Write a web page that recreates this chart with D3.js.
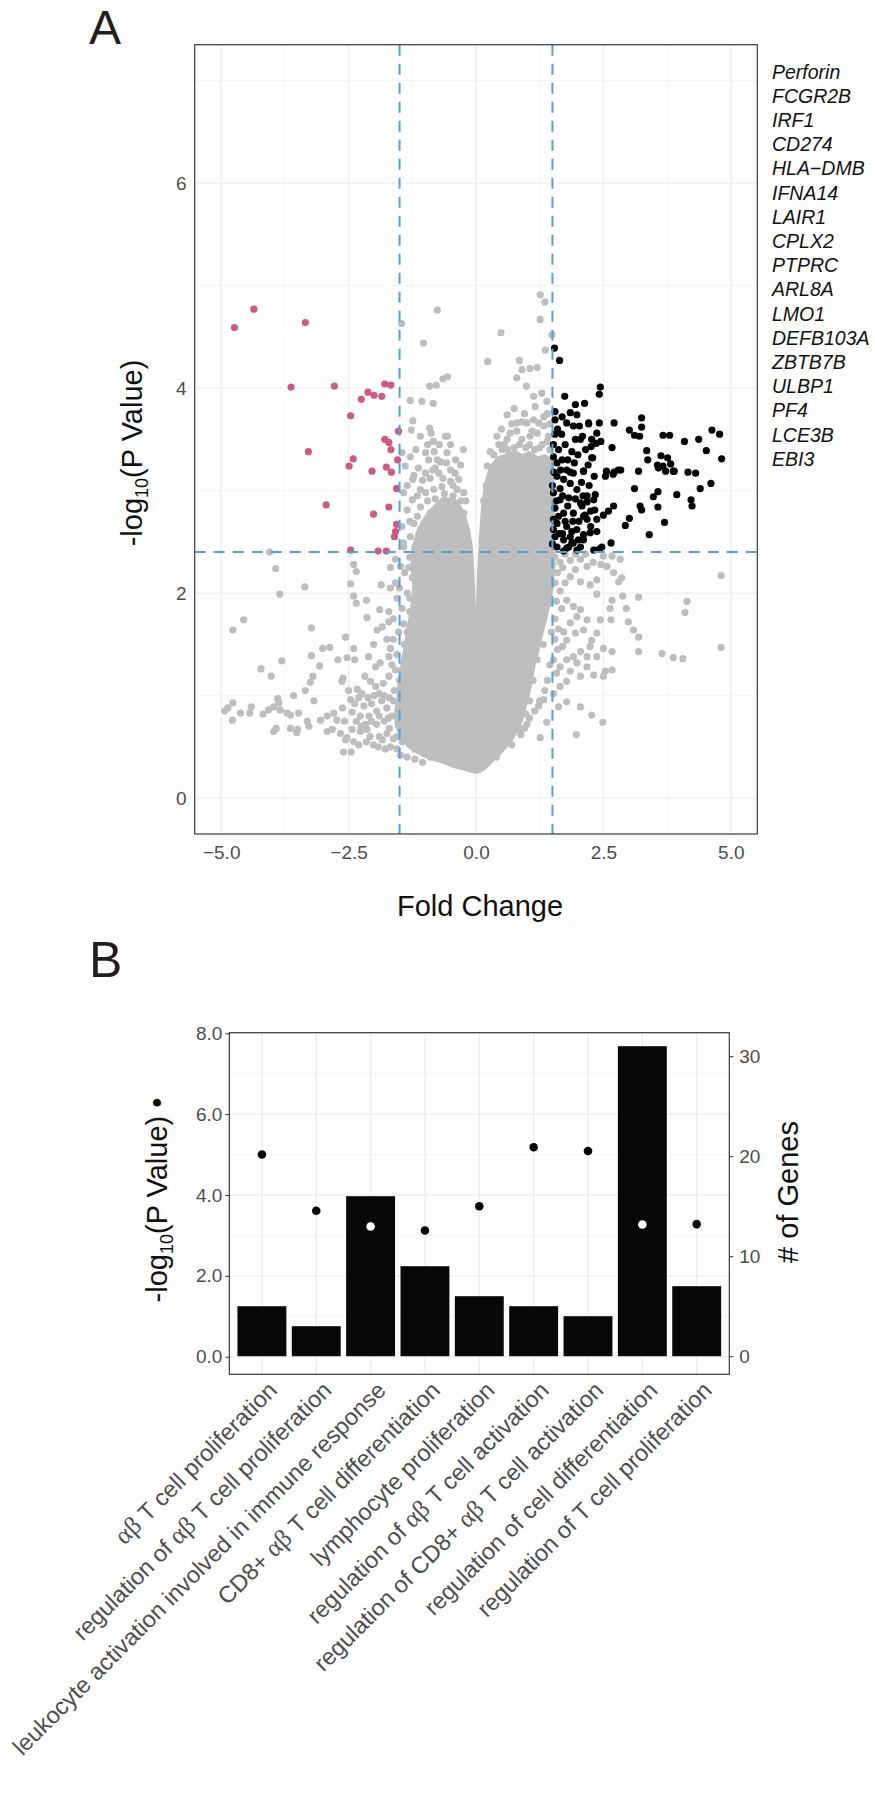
<!DOCTYPE html>
<html><head><meta charset="utf-8">
<script src="https://cdn.jsdelivr.net/npm/d3@7"></script>
<style>
body{margin:0;background:#fff}
text{font-family:"Liberation Sans",Arial,Helvetica,sans-serif}
</style>
</head><body>
<svg id="chart" width="875" height="1800"></svg>
<script>
// ---------------- Panel A data (fold change, -log10 p) ----------------
const xTicksA = [-5, -2.5, 0, 2.5, 5];
const xMinorA = [-3.75, -1.25, 1.25, 3.75];
const yTicksA = [0, 2, 4, 6];
const yMinorA = [1, 3, 5, 7];
const fcThresholds = [-1.5, 1.5];
const pThreshold = 2.4;

// outline of the saturated (overplotted) grey core of the volcano
const denseCore = [
  [-0.01,0.27],[-0.2,0.30],[-0.45,0.33],[-0.64,0.37],[-0.85,0.40],[-1.0,0.43],[-1.15,0.47],[-1.3,0.52],
  [-1.42,0.60],[-1.52,0.70],[-1.55,0.82],[-1.5,0.95],[-1.48,1.08],[-1.44,1.2],[-1.40,1.35],[-1.34,1.5],
  [-1.30,1.65],[-1.24,1.8],[-1.20,1.95],[-1.18,2.1],[-1.22,2.25],[-1.20,2.42],[-1.12,2.58],[-1.0,2.7],
  [-0.85,2.8],[-0.65,2.9],[-0.45,2.9],[-0.28,2.78],[-0.18,2.6],[-0.13,2.45],[-0.10,2.2],[-0.07,1.8],
  [-0.04,1.4],[-0.01,1.0],[0.03,1.4],[0.06,1.8],[0.09,2.2],[0.12,2.5],[0.16,2.8],[0.22,3.05],
  [0.32,3.22],[0.45,3.3],[0.6,3.33],[0.75,3.36],[0.9,3.32],[1.05,3.35],[1.2,3.30],[1.35,3.32],
  [1.46,3.28],[1.47,3.0],[1.48,2.7],[1.49,2.4],[1.48,2.2],[1.45,2.05],[1.40,1.9],[1.33,1.75],
  [1.25,1.6],[1.18,1.45],[1.10,1.3],[1.05,1.15],[0.98,1.0],[0.92,0.88],[0.85,0.76],[0.75,0.65],
  [0.62,0.55],[0.48,0.47],[0.32,0.39],[0.18,0.32],[0.07,0.28]
];

// individually visible grey (not significant) genes
const nsPoints = [
  [-4.05,2.40],[-3.93,2.24],[-3.85,1.99],[-3.36,2.06],[-4.56,1.74],[-4.77,1.64],[-3.23,1.66],[-3.81,1.34],
  [-4.22,1.26],[-4.02,1.19],[-3.01,1.46],[-2.87,1.47],[-3.23,1.39],[-3.07,1.29],[-3.20,1.19],[-3.25,1.13],
  [-3.35,1.05],[-3.18,0.95],[-3.58,1.00],[-3.89,0.97],[-3.87,0.93],
  [-4.93,0.85],[-4.87,0.88],[-4.77,0.93],[-4.78,0.76],[-4.62,0.83],[-4.41,0.89],[-4.44,0.83],[-4.18,0.82],
  [-4.07,0.86],[-3.97,0.89],[-3.84,0.86],
  [-3.97,0.65],[-3.92,0.68],[-3.64,0.68],[-3.52,0.64],[-3.50,0.67],[-3.71,0.83],[-3.64,0.81],[-3.48,0.83],
  [-3.31,0.75],[-3.28,0.70],
  [-3.05,0.76],[-2.92,0.80],[-2.79,0.83],[-2.73,0.76],[-2.92,0.65],[-2.82,0.67],[-2.66,0.63],[-2.56,0.57],
  [-2.56,1.57],[-2.40,1.46],[-2.53,1.37],[-2.38,1.35],[-2.71,1.35],[-2.61,1.17],[-2.63,1.14],
  [-2.46,2.09],[-2.40,1.97],[-2.35,1.90],[-2.40,2.28],[-2.35,2.21],[-2.15,1.93],
  [-2.14,1.76],[-1.89,1.84],[-1.71,1.82],[-1.86,2.08],[-1.68,2.05],
  [-2.01,1.50],[-1.94,1.64],[-1.84,1.67],[-1.71,1.72],
  [-2.11,1.38],[-1.97,1.28],[-1.88,1.32],[-1.71,1.38],[-1.68,1.46],
  [-2.18,1.19],[-2.07,1.14],[-1.97,1.09],[-1.82,1.12],[-1.71,1.19],
  [-2.46,0.96],[-2.33,1.06],[-2.24,1.02],[-2.43,0.84],[-2.27,0.80],[-2.17,0.72],[-2.43,0.67],[-2.27,0.65],
  [-2.14,0.67],[-2.01,0.52],[-1.84,0.57],[-1.75,0.63],[-2.53,0.59],
  [-2.05,0.92],[-1.95,0.85],[-1.85,0.95],[-1.75,0.88],[-1.65,0.80],[-2.10,0.80],[-1.95,0.72],[-1.80,0.75],
  [-1.70,0.68],[-1.62,0.58],[-1.90,0.60],[-1.60,1.05],[-1.58,1.25],[-1.62,0.95],
  [-2.38,0.92],[-2.30,0.98],[-2.20,0.90],[-2.12,0.98],[-2.00,1.00],[-1.90,1.02],[-1.80,1.00],[-1.70,0.98],
  [-2.35,0.75],[-2.25,0.70],[-2.05,0.75],[-1.90,0.80],[-1.72,0.78],[-2.40,0.55],[-2.30,0.52],[-2.15,0.55],
  [-2.08,0.60],[-1.92,0.50],[-1.78,0.48],[-1.68,0.50],[-1.55,0.48],[-1.48,0.42],[-1.35,0.40],[-1.20,0.38],
  [-1.05,0.35],[-2.58,0.75],[-2.62,0.88],[-2.50,1.05],[-2.60,0.45],[-2.45,0.45],
  [-1.65,1.30],[-1.75,1.55],[-1.62,1.75],[-1.58,2.10],[-1.68,2.25],[-1.50,2.05],[-1.42,1.70],[-1.35,1.62],
  [-1.30,1.95],[-1.32,2.25],[-1.50,1.15],[-1.55,0.60],
  [-1.58,2.33],[-1.42,2.45],[-1.48,2.26],[-1.30,2.35],[-1.40,2.20],[-1.35,2.00],[-1.45,1.85],[-1.30,1.82],
  [-1.52,1.62],[-1.40,1.50],[-1.55,1.40],[-1.45,1.25],[-1.62,1.55],[-1.55,1.95],[-1.25,2.15],[-1.20,2.45],
  [-1.46,4.63],[-0.76,4.76],[-1.03,4.44],[-0.56,4.11],[-0.65,4.09],[-0.78,4.03],[-0.91,4.02],[-1.29,3.88],
  [-1.06,3.87],[-0.84,3.85],[-1.24,3.68],[-1.27,3.59],[-1.09,3.53],[-0.91,3.61],[-0.88,3.56],[-0.84,3.48],
  [-0.60,3.53],[-0.56,3.53],
  [-1.45,3.37],[-1.29,3.33],[-1.39,3.24],[-1.22,3.15],[-1.24,3.11],[-0.99,3.37],[-0.93,3.30],[-0.82,3.38],
  [-0.76,3.30],[-0.57,3.37],[-0.80,3.22],[-0.58,3.27],
  [-1.13,3.22],[-0.99,3.17],[-0.90,3.12],[-0.73,3.17],[-0.50,3.20],[-0.41,3.17],[-0.34,3.11],
  [-1.42,2.98],[-1.25,2.91],[-1.09,3.01],[-0.99,2.98],[-0.83,3.01],[-0.67,3.04],[-0.50,3.09],[-0.37,3.01],
  [-0.24,2.98],
  [-1.35,2.81],[-1.09,2.84],[-0.90,2.78],[-0.76,2.84],[-0.57,2.88],[-0.37,2.81],[-0.24,2.78],
  [-1.45,2.65],[-1.22,2.68],[-1.09,2.62],[-1.29,2.55],[-1.42,2.49],[-0.96,2.59],[-0.83,2.65],
  [-1.15,2.95],[-0.95,2.90],[-0.80,2.92],[-0.62,2.97],[-0.45,2.95],[-0.30,2.90],[-1.05,3.10],[-0.85,3.20],
  [-0.65,3.12],[-0.45,3.05],[-0.70,3.28],[-0.95,3.45],[-0.72,3.45],[-0.40,3.30],[-1.18,3.40],[-1.35,3.05],
  [-1.30,2.70],[-1.15,2.75],[-0.30,3.25],[-0.20,2.90],[-0.25,3.40],[-0.50,3.45],
  [1.26,4.91],[1.35,4.84],[1.26,4.67],[1.49,4.52],[1.36,4.37],[0.49,4.54],[0.23,4.26],[0.85,4.27],
  [0.90,4.18],[1.06,4.19],[1.20,4.20],[0.80,4.10],[0.99,4.02],
  [0.61,3.74],[0.75,3.80],[0.80,3.66],[0.90,3.67],[1.00,3.66],[1.13,3.69],[1.23,3.66],[1.33,3.72],
  [1.39,3.87],[1.13,3.92],[1.29,3.95],[1.16,3.82],
  [0.41,3.53],[0.51,3.40],[0.61,3.50],[0.67,3.56],[0.80,3.58],[0.90,3.50],[1.06,3.53],[1.20,3.56],
  [1.33,3.63],[1.42,3.53],[0.22,3.24],
  [0.35,3.35],[0.55,3.45],[0.75,3.42],[0.98,3.42],[1.15,3.40],[1.30,3.45],[1.45,3.40],[0.30,3.15],
  [0.20,3.05],[0.15,2.90],
  [0.28,3.38],[0.45,3.45],[0.62,3.40],[0.85,3.45],[1.05,3.45],[1.25,3.42],[1.40,3.48],[0.50,3.60],
  [0.70,3.65],[1.10,3.58],[1.45,3.65],[0.95,3.75],[1.40,3.75],
  [2.05,2.33],[2.18,2.26],[1.95,2.23],[1.85,2.16],[1.75,2.10],[2.05,2.11],[2.24,2.08],[2.37,2.13],
  [1.78,1.93],[1.91,1.87],[2.05,1.84],[1.98,1.77],[2.18,1.74],[1.85,1.71],[2.11,1.64],[1.95,1.61],
  [1.78,1.54],
  [2.05,1.43],[1.91,1.38],[1.78,1.35],[1.98,1.32],[2.18,1.28],[1.65,1.28],[1.85,1.24],[2.05,1.19],
  [2.31,1.20],[2.54,1.24],[1.78,1.14],[1.65,1.09],[1.52,1.02],
  [1.55,2.35],[1.65,2.30],[1.60,2.20],[1.70,2.25],[1.55,2.10],[1.65,2.02],[1.58,1.92],[1.68,1.85],
  [1.55,1.75],[1.62,1.65],[1.72,1.62],[1.55,1.55],[1.60,1.45],[1.70,1.48],[1.52,1.35],[1.58,1.22],
  [1.45,1.30],[1.40,1.15],[1.35,1.05],[1.25,0.95],[1.15,0.85],[1.05,0.78],[0.95,0.68],[1.75,2.38],
  [1.85,2.32],[1.95,2.38],[2.15,2.38],[2.30,2.30],[2.45,2.28],[1.48,1.62],[1.45,1.90],[1.50,2.28],
  [1.15,1.60],[1.25,1.75],[1.32,1.50],[1.20,1.35],[1.12,1.15],[1.05,0.95],[0.98,0.82],[0.85,0.68],
  [2.50,2.36],[2.67,2.36],[2.83,2.33],[2.57,2.26],[2.70,2.20],[2.86,2.15],[2.80,2.11],
  [4.81,2.17],[4.81,1.47],[4.14,1.92],[4.10,1.81],[3.65,1.41],[3.87,1.37],[4.06,1.36],[3.19,1.96],
  [3.19,1.43],[2.88,1.97],[2.95,1.85],[2.99,1.72],[3.09,1.64],[3.19,1.57],[2.67,1.93],[2.63,1.85],
  [2.65,1.74],[2.67,1.43],[2.67,1.25],[2.50,1.19],[2.37,1.99],[2.44,1.74],[2.37,1.61],[2.50,1.46],
  [2.37,1.38],[2.27,1.54],[2.24,1.48],[2.18,1.38],[1.97,0.62],[2.27,0.81],[2.49,0.74],[2.05,0.89],
  [1.78,0.94],[1.62,0.89],[1.26,0.59],[1.39,0.74],[1.23,0.90],[1.33,0.96],
  [-1.45,0.55],[-1.20,0.48],[-0.90,0.40],[-0.50,0.35],[0.40,0.40],[0.70,0.52],[0.88,0.62],[1.00,0.72]
];

// significantly down-regulated genes (pink)
const downPoints = [
  [-4.74,4.59],[-4.36,4.77],[-3.35,4.64],[-3.63,4.01],[-2.78,4.02],[-2.46,3.73],[-2.25,3.89],[-2.12,3.96],
  [-2.00,3.93],[-1.85,3.92],[-1.79,4.04],[-1.67,4.03],[-1.52,3.58],[-3.29,3.38],[-1.79,3.50],[-1.71,3.47],
  [-1.67,3.40],[-2.41,3.31],[-2.49,3.24],[-2.04,3.19],[-1.76,3.23],[-1.66,3.18],[-1.54,3.30],[-1.56,3.02],
  [-2.94,2.86],[-2.01,2.77],[-1.71,2.84],[-1.56,2.67],[-1.58,2.60],[-1.60,2.55],[-2.46,2.42],[-1.92,2.41],
  [-1.76,2.41]
];

// significantly up-regulated genes (black)
const upPoints = [
  [1.54,4.39],[1.64,4.27],[2.44,4.01],[2.42,3.94],[1.74,3.92],[1.95,3.84],[2.13,3.85],
  [3.25,3.71],[2.71,3.66],[2.42,3.66],[2.21,3.65],[2.03,3.63],
  [3.01,3.59],[3.11,3.54],[3.21,3.53],[3.25,3.62],[3.67,3.54],[3.80,3.54],[4.09,3.48],[4.37,3.50],
  [4.63,3.59],[4.78,3.55],[4.52,3.39],[4.82,3.31],
  [2.09,3.53],[2.27,3.50],[2.36,3.46],[2.45,3.48],[2.26,3.43],[2.67,3.42],[3.35,3.39],[3.37,3.30],[2.29,3.32],
  [3.63,3.34],[3.76,3.32],[3.82,3.26],[3.67,3.24],[3.58,3.22],[4.16,3.18],[4.31,3.17],[3.19,3.19],[2.11,3.19],
  [2.71,3.18],[2.84,3.20],[3.89,3.19],[3.56,3.25],[3.72,3.19],[3.87,3.19],
  [3.11,3.02],[3.57,2.99],[3.48,2.94],[3.94,2.96],[4.40,3.02],[4.61,3.07],[4.22,2.91],[4.24,2.85],
  [3.22,2.85],[3.25,2.81],[3.57,2.84],[3.01,2.73],[2.93,2.66],[3.70,2.69],[3.40,2.57],[2.37,2.60],
  [2.65,2.49],[2.47,2.45],[2.42,2.43],[2.70,2.85],[2.60,2.80],[2.50,2.76],
  [2.79,3.20],[2.69,3.16],[2.54,3.14],[2.56,3.19],[2.32,3.14],
  [2.34,2.96],[2.31,2.91],[2.33,2.81],[2.37,2.72],[2.18,2.89],[2.08,2.85],[2.14,2.76],[2.18,2.72],
  [2.11,2.57],[2.01,2.52],[1.91,2.49],[1.82,2.45],[1.72,2.41],
  [1.55,3.77],[1.69,3.72],[1.85,3.76],[1.98,3.74],[1.78,3.66],[1.55,3.69],[1.91,3.63],[2.05,3.50],
  [2.21,3.66],[2.37,3.56],[2.27,3.32],
  [1.52,3.33],[1.59,3.27],[1.69,3.30],[1.78,3.20],[1.91,3.17],[2.11,3.19],[1.59,3.14],[1.72,3.11],
  [1.85,3.07],[1.98,3.01],[1.52,2.98],[1.65,2.91],[1.82,2.93],[2.05,2.88],[1.55,2.83],[1.72,2.78],
  [1.91,2.78],[2.11,2.75],[1.59,2.68],[1.78,2.65],[1.98,2.62],[1.55,2.55],[1.72,2.52],[1.88,2.49],
  [2.11,2.52],[2.24,2.59],[2.31,2.42],[1.59,2.45],[1.78,2.44],[1.98,2.42],
  [1.50,3.05],[1.62,3.40],[1.75,3.45],[1.88,3.38],[2.00,3.35],[1.55,3.55],[1.68,3.55],[1.95,3.50],
  [2.15,3.40],[1.65,3.02],[1.80,2.85],[1.95,2.92],[2.02,2.70],[1.62,2.75],[1.52,2.62],[1.70,2.58],
  [1.88,2.60],[1.50,2.48],[2.18,2.95],[2.20,3.25],[2.25,2.80],[2.05,2.45],[1.53,3.18],[1.85,3.18],
  [1.70,2.95],[1.60,3.60],[1.52,3.45],[1.66,3.20],[1.80,3.30],[1.93,3.27],[2.07,3.08],[1.58,2.90],
  [1.75,2.70],[1.90,2.70],[2.10,2.95],[1.63,2.58],[1.85,2.55],[1.52,2.72],[2.22,3.05],[2.25,2.65]
];

const geneLabels = ["Perforin","FCGR2B","IRF1","CD274","HLA\u2212DMB","IFNA14","LAIR1","CPLX2","PTPRC",
  "ARL8A","LMO1","DEFB103A","ZBTB7B","ULBP1","PF4","LCE3B","EBI3"];

// ---------------- Panel B data ----------------
const categories = [
  "αβ T cell proliferation",
  "regulation of αβ T cell proliferation",
  "leukocyte activation involved in immune response",
  "CD8+ αβ T cell differentiation",
  "lymphocyte proliferation",
  "regulation of αβ T cell activation",
  "regulation of CD8+ αβ T cell activation",
  "regulation of cell differentiation",
  "regulation of T cell proliferation"
];
const geneCounts = [5, 3, 16, 9, 6, 5, 4, 31, 7];
const pValuesLog = [5.0, 3.61, 3.22, 3.12, 3.72, 5.18, 5.09, 3.27, 3.28];
const yTicksBLeft = [0, 2, 4, 6, 8];
const yMinorBLeft = [1, 3, 5, 7];
const yTicksBRight = [0, 10, 20, 30];

// ---------------- drawing ----------------
const svg = d3.select("#chart");
svg.append("rect").attr("width",875).attr("height",1800).attr("fill","#fff");

const GRID = "#ECEFF1", GRIDMINOR = "#F2F4F5", TICKTXT = "#4D4D4D";
const GREY = "#BEBEBE", PINK = "#CD5A84", BLUE = "#55A0D5";

// ===== Panel A =====
const A = {l:194.7, r:757.3, t:44.7, b:834};
const xA = d3.scaleLinear().domain([-5.52, 5.52]).range([A.l, A.r]);
const yA = d3.scaleLinear().domain([-0.35, 7.35]).range([A.b, A.t]);
const gA = svg.append("g");

gA.selectAll(".xmin").data(xMinorA).join("line")
  .attr("x1",d=>xA(d)).attr("x2",d=>xA(d)).attr("y1",A.t).attr("y2",A.b)
  .attr("stroke",GRIDMINOR).attr("stroke-width",0.8);
gA.selectAll(".ymin").data(yMinorA).join("line")
  .attr("y1",d=>yA(d)).attr("y2",d=>yA(d)).attr("x1",A.l).attr("x2",A.r)
  .attr("stroke",GRIDMINOR).attr("stroke-width",0.8);
gA.selectAll(".xmaj").data(xTicksA).join("line")
  .attr("x1",d=>xA(d)).attr("x2",d=>xA(d)).attr("y1",A.t).attr("y2",A.b)
  .attr("stroke",GRID).attr("stroke-width",1.3);
gA.selectAll(".ymaj").data(yTicksA).join("line")
  .attr("y1",d=>yA(d)).attr("y2",d=>yA(d)).attr("x1",A.l).attr("x2",A.r)
  .attr("stroke",GRID).attr("stroke-width",1.3);

// dense core
const coreLine = d3.line().x(d=>xA(d[0])).y(d=>yA(d[1])).curve(d3.curveLinearClosed);
gA.append("path").attr("d",coreLine(denseCore))
  .attr("fill",GREY).attr("stroke",GREY).attr("stroke-width",7).attr("stroke-linejoin","round");

const R = 3.6;
gA.selectAll(".ns").data(nsPoints).join("circle")
  .attr("cx",d=>xA(d[0])).attr("cy",d=>yA(d[1])).attr("r",R).attr("fill",GREY);
gA.selectAll(".dn").data(downPoints).join("circle")
  .attr("cx",d=>xA(d[0])).attr("cy",d=>yA(d[1])).attr("r",R).attr("fill",PINK);
gA.selectAll(".up").data(upPoints).join("circle")
  .attr("cx",d=>xA(d[0])).attr("cy",d=>yA(d[1])).attr("r",R).attr("fill","#050505");

// threshold lines
gA.selectAll(".vth").data(fcThresholds).join("line")
  .attr("x1",d=>xA(d)).attr("x2",d=>xA(d)).attr("y1",A.t).attr("y2",A.b)
  .attr("stroke",BLUE).attr("stroke-width",2).attr("stroke-dasharray","11,8");
gA.append("line").attr("x1",A.l).attr("x2",A.r).attr("y1",yA(pThreshold)).attr("y2",yA(pThreshold))
  .attr("stroke",BLUE).attr("stroke-width",2).attr("stroke-dasharray","11,8");

gA.append("rect").attr("x",A.l).attr("y",A.t).attr("width",A.r-A.l).attr("height",A.b-A.t)
  .attr("fill","none").attr("stroke","#3a3a3a").attr("stroke-width",1.2);

// axes
const axA_x = svg.append("g").attr("transform",`translate(0,${A.b})`)
  .call(d3.axisBottom(xA).tickValues(xTicksA).tickFormat(d3.format(".1f")).tickSize(0).tickPadding(12));
const axA_y = svg.append("g").attr("transform",`translate(${A.l},0)`)
  .call(d3.axisLeft(yA).tickValues(yTicksA).tickFormat(d3.format("d")).tickSize(0).tickPadding(8));
[axA_x, axA_y].forEach(g=>{
  g.select(".domain").remove();
  g.selectAll("text").attr("font-size",19).attr("fill",TICKTXT).attr("font-family","Liberation Sans, Arial, sans-serif");
});

// titles A
svg.append("text").attr("x",480).attr("y",916).attr("text-anchor","middle")
  .attr("font-size",29).attr("fill","#111").text("Fold Change");
const ytA = svg.append("text").attr("transform","translate(142,453) rotate(-90)")
  .attr("text-anchor","middle").attr("font-size",29).attr("fill","#111");
ytA.append("tspan").text("-log");
ytA.append("tspan").attr("font-size",18).attr("dy",6).text("10");
ytA.append("tspan").attr("dy",-6).text("(P Value)");

// gene list
svg.append("g").selectAll("text").data(geneLabels).join("text")
  .attr("x",772).attr("y",(d,i)=>78.5+i*24.2)
  .attr("font-size",19.5).attr("font-style","italic").attr("fill","#111").text(d=>d);

// panel letters
svg.append("text").attr("x",89).attr("y",44).attr("font-size",48).attr("fill","#231F20").text("A");
svg.append("text").attr("x",89).attr("y",977).attr("font-size",50).attr("fill","#231F20").text("B");

// ===== Panel B =====
const B = {l:229.3, r:729.3, t:1032.7, b:1374.3};
const xB = d3.scaleBand().domain(categories).range([B.l, B.r]).paddingInner(0.1).paddingOuter(0.15);
const yL = d3.scaleLinear().domain([0, 8]).range([1356.7, 1033.3]);
const yR = d3.scaleLinear().domain([0, 30]).range([1356.2, 1056.2]);
const gB = svg.append("g");
const cx = d=>xB(d)+xB.bandwidth()/2;

gB.selectAll(".bymin").data(yMinorBLeft).join("line")
  .attr("y1",d=>yL(d)).attr("y2",d=>yL(d)).attr("x1",B.l).attr("x2",B.r)
  .attr("stroke",GRIDMINOR).attr("stroke-width",0.9);
gB.selectAll(".bymaj").data(yTicksBLeft).join("line")
  .attr("y1",d=>yL(d)).attr("y2",d=>yL(d)).attr("x1",B.l).attr("x2",B.r)
  .attr("stroke",GRID).attr("stroke-width",1.4);
gB.selectAll(".bxmaj").data(categories).join("line")
  .attr("x1",cx).attr("x2",cx).attr("y1",B.t).attr("y2",B.b)
  .attr("stroke",GRID).attr("stroke-width",1.4);

gB.selectAll(".bar").data(categories).join("rect")
  .attr("x",d=>xB(d)).attr("width",xB.bandwidth())
  .attr("y",(d,i)=>yR(geneCounts[i])).attr("height",(d,i)=>yR(0)-yR(geneCounts[i]))
  .attr("fill","#050708");

gB.selectAll(".pdot").data(categories).join("circle")
  .attr("cx",cx).attr("cy",(d,i)=>yL(pValuesLog[i])).attr("r",4.3)
  .attr("fill",(d,i)=> yL(pValuesLog[i]) > yR(geneCounts[i]) ? "#fff" : "#050505");

gB.append("rect").attr("x",B.l).attr("y",B.t).attr("width",B.r-B.l).attr("height",B.b-B.t)
  .attr("fill","none").attr("stroke","#3a3a3a").attr("stroke-width",1.2);

const axBL = svg.append("g").attr("transform",`translate(${B.l},0)`)
  .call(d3.axisLeft(yL).tickValues(yTicksBLeft).tickFormat(d3.format(".1f")).tickSize(4).tickPadding(3));
const axBR = svg.append("g").attr("transform",`translate(${B.r},0)`)
  .call(d3.axisRight(yR).tickValues(yTicksBRight).tickFormat(d3.format("d")).tickSize(4).tickPadding(6));
[axBL, axBR].forEach(g=>{
  g.select(".domain").remove();
  g.selectAll("line").attr("stroke","#333");
  g.selectAll("text").attr("font-size",19).attr("fill",TICKTXT).attr("font-family","Liberation Sans, Arial, sans-serif");
});

// rotated category labels
const lab = svg.append("g").selectAll("text").data(categories).join("text")
  .attr("transform",d=>`translate(${cx(d)+5},1380) rotate(-45)`)
  .attr("text-anchor","end").attr("dy","0.7em")
  .attr("font-size",23.5).attr("fill",TICKTXT);
lab.each(function(d){
  const t = d3.select(this);
  const parts = d.split("αβ");
  parts.forEach((p,i)=>{
    if(i>0) t.append("tspan").attr("font-family","Liberation Serif, Times New Roman, serif").attr("font-size",25.5).text("αβ");
    if(p.length) t.append("tspan").text(p);
  });
});

// titles B
const ytB = svg.append("text").attr("transform","translate(167,1200) rotate(-90)")
  .attr("text-anchor","middle").attr("font-size",29).attr("fill","#111");
ytB.append("tspan").text("-log");
ytB.append("tspan").attr("font-size",18).attr("dy",6).text("10");
ytB.append("tspan").attr("dy",-6).text("(P Value) \u2022");

svg.append("text").attr("transform","translate(798,1192) rotate(-90)")
  .attr("text-anchor","middle").attr("font-size",29).attr("fill","#111").text("# of Genes");
</script>
</body></html>
